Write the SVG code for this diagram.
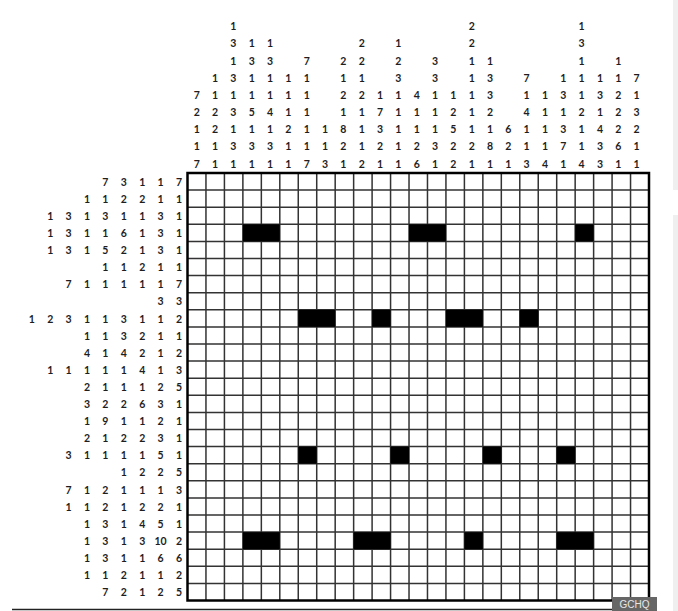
<svg xmlns="http://www.w3.org/2000/svg" width="678" height="611" viewBox="0 0 678 611">
<style>
.c{font-family:Lato,"Liberation Sans",sans-serif;font-weight:bold;font-size:10.5px;fill:#1e1e1e;text-anchor:middle}
.g{stroke:#333;stroke-width:1.5;fill:none}
.b{fill:#000}
</style>
<rect width="678" height="611" fill="#fff"/>
<rect x="673" y="0" width="5" height="190" fill="#efefef"/>
<rect x="673" y="215" width="5" height="396" fill="#efefef"/>
<g id="column-clues" class="c">
<text><tspan x="196.7" y="98.8">7</tspan><tspan x="196.7" y="116">2</tspan><tspan x="196.7" y="133.2">1</tspan><tspan x="196.7" y="150.3">1</tspan><tspan x="196.7" y="167.5">7</tspan></text>
<text><tspan x="215" y="81.7">1</tspan><tspan x="215" y="98.8">1</tspan><tspan x="215" y="116">2</tspan><tspan x="215" y="133.2">2</tspan><tspan x="215" y="150.3">1</tspan><tspan x="215" y="167.5">1</tspan></text>
<text><tspan x="233.4" y="30.2">1</tspan><tspan x="233.4" y="47.4">3</tspan><tspan x="233.4" y="64.5">1</tspan><tspan x="233.4" y="81.7">3</tspan><tspan x="233.4" y="98.8">1</tspan><tspan x="233.4" y="116">3</tspan><tspan x="233.4" y="133.2">1</tspan><tspan x="233.4" y="150.3">3</tspan><tspan x="233.4" y="167.5">1</tspan></text>
<text><tspan x="251.7" y="47.4">1</tspan><tspan x="251.7" y="64.5">3</tspan><tspan x="251.7" y="81.7">1</tspan><tspan x="251.7" y="98.8">1</tspan><tspan x="251.7" y="116">5</tspan><tspan x="251.7" y="133.2">1</tspan><tspan x="251.7" y="150.3">3</tspan><tspan x="251.7" y="167.5">1</tspan></text>
<text><tspan x="270" y="47.4">1</tspan><tspan x="270" y="64.5">3</tspan><tspan x="270" y="81.7">1</tspan><tspan x="270" y="98.8">1</tspan><tspan x="270" y="116">4</tspan><tspan x="270" y="133.2">1</tspan><tspan x="270" y="150.3">3</tspan><tspan x="270" y="167.5">1</tspan></text>
<text><tspan x="288.4" y="81.7">1</tspan><tspan x="288.4" y="98.8">1</tspan><tspan x="288.4" y="116">1</tspan><tspan x="288.4" y="133.2">2</tspan><tspan x="288.4" y="150.3">1</tspan><tspan x="288.4" y="167.5">1</tspan></text>
<text><tspan x="306.7" y="64.5">7</tspan><tspan x="306.7" y="81.7">1</tspan><tspan x="306.7" y="98.8">1</tspan><tspan x="306.7" y="116">1</tspan><tspan x="306.7" y="133.2">1</tspan><tspan x="306.7" y="150.3">1</tspan><tspan x="306.7" y="167.5">7</tspan></text>
<text><tspan x="325" y="133.2">1</tspan><tspan x="325" y="150.3">1</tspan><tspan x="325" y="167.5">3</tspan></text>
<text><tspan x="343.3" y="64.5">2</tspan><tspan x="343.3" y="81.7">1</tspan><tspan x="343.3" y="98.8">2</tspan><tspan x="343.3" y="116">1</tspan><tspan x="343.3" y="133.2">8</tspan><tspan x="343.3" y="150.3">2</tspan><tspan x="343.3" y="167.5">1</tspan></text>
<text><tspan x="361.7" y="47.4">2</tspan><tspan x="361.7" y="64.5">2</tspan><tspan x="361.7" y="81.7">1</tspan><tspan x="361.7" y="98.8">2</tspan><tspan x="361.7" y="116">1</tspan><tspan x="361.7" y="133.2">1</tspan><tspan x="361.7" y="150.3">1</tspan><tspan x="361.7" y="167.5">2</tspan></text>
<text><tspan x="380" y="98.8">1</tspan><tspan x="380" y="116">7</tspan><tspan x="380" y="133.2">3</tspan><tspan x="380" y="150.3">2</tspan><tspan x="380" y="167.5">1</tspan></text>
<text><tspan x="398.3" y="47.4">1</tspan><tspan x="398.3" y="64.5">2</tspan><tspan x="398.3" y="81.7">3</tspan><tspan x="398.3" y="98.8">1</tspan><tspan x="398.3" y="116">1</tspan><tspan x="398.3" y="133.2">1</tspan><tspan x="398.3" y="150.3">1</tspan><tspan x="398.3" y="167.5">1</tspan></text>
<text><tspan x="416.7" y="98.8">4</tspan><tspan x="416.7" y="116">1</tspan><tspan x="416.7" y="133.2">1</tspan><tspan x="416.7" y="150.3">2</tspan><tspan x="416.7" y="167.5">6</tspan></text>
<text><tspan x="435" y="64.5">3</tspan><tspan x="435" y="81.7">3</tspan><tspan x="435" y="98.8">1</tspan><tspan x="435" y="116">1</tspan><tspan x="435" y="133.2">1</tspan><tspan x="435" y="150.3">3</tspan><tspan x="435" y="167.5">1</tspan></text>
<text><tspan x="453.3" y="98.8">1</tspan><tspan x="453.3" y="116">2</tspan><tspan x="453.3" y="133.2">5</tspan><tspan x="453.3" y="150.3">2</tspan><tspan x="453.3" y="167.5">2</tspan></text>
<text><tspan x="471.7" y="30.2">2</tspan><tspan x="471.7" y="47.4">2</tspan><tspan x="471.7" y="64.5">1</tspan><tspan x="471.7" y="81.7">1</tspan><tspan x="471.7" y="98.8">1</tspan><tspan x="471.7" y="116">1</tspan><tspan x="471.7" y="133.2">1</tspan><tspan x="471.7" y="150.3">2</tspan><tspan x="471.7" y="167.5">1</tspan></text>
<text><tspan x="490" y="64.5">1</tspan><tspan x="490" y="81.7">3</tspan><tspan x="490" y="98.8">3</tspan><tspan x="490" y="116">2</tspan><tspan x="490" y="133.2">1</tspan><tspan x="490" y="150.3">8</tspan><tspan x="490" y="167.5">1</tspan></text>
<text><tspan x="508.3" y="133.2">6</tspan><tspan x="508.3" y="150.3">2</tspan><tspan x="508.3" y="167.5">1</tspan></text>
<text><tspan x="526.6" y="81.7">7</tspan><tspan x="526.6" y="98.8">1</tspan><tspan x="526.6" y="116">4</tspan><tspan x="526.6" y="133.2">1</tspan><tspan x="526.6" y="150.3">1</tspan><tspan x="526.6" y="167.5">3</tspan></text>
<text><tspan x="545" y="98.8">1</tspan><tspan x="545" y="116">1</tspan><tspan x="545" y="133.2">1</tspan><tspan x="545" y="150.3">1</tspan><tspan x="545" y="167.5">4</tspan></text>
<text><tspan x="563.3" y="81.7">1</tspan><tspan x="563.3" y="98.8">3</tspan><tspan x="563.3" y="116">1</tspan><tspan x="563.3" y="133.2">3</tspan><tspan x="563.3" y="150.3">7</tspan><tspan x="563.3" y="167.5">1</tspan></text>
<text><tspan x="581.6" y="30.2">1</tspan><tspan x="581.6" y="47.4">3</tspan><tspan x="581.6" y="64.5">1</tspan><tspan x="581.6" y="81.7">1</tspan><tspan x="581.6" y="98.8">1</tspan><tspan x="581.6" y="116">2</tspan><tspan x="581.6" y="133.2">1</tspan><tspan x="581.6" y="150.3">1</tspan><tspan x="581.6" y="167.5">4</tspan></text>
<text><tspan x="600" y="81.7">1</tspan><tspan x="600" y="98.8">3</tspan><tspan x="600" y="116">1</tspan><tspan x="600" y="133.2">4</tspan><tspan x="600" y="150.3">3</tspan><tspan x="600" y="167.5">3</tspan></text>
<text><tspan x="618.3" y="64.5">1</tspan><tspan x="618.3" y="81.7">1</tspan><tspan x="618.3" y="98.8">2</tspan><tspan x="618.3" y="116">2</tspan><tspan x="618.3" y="133.2">2</tspan><tspan x="618.3" y="150.3">6</tspan><tspan x="618.3" y="167.5">1</tspan></text>
<text><tspan x="636.6" y="81.7">7</tspan><tspan x="636.6" y="98.8">1</tspan><tspan x="636.6" y="116">3</tspan><tspan x="636.6" y="133.2">2</tspan><tspan x="636.6" y="150.3">1</tspan><tspan x="636.6" y="167.5">1</tspan></text>
</g>
<g id="row-clues" class="c">
<text y="185.7"><tspan x="105.4">7</tspan><tspan x="123.8">3</tspan><tspan x="142.2">1</tspan><tspan x="160.6">1</tspan><tspan x="179">7</tspan></text>
<text y="202.8"><tspan x="87">1</tspan><tspan x="105.4">1</tspan><tspan x="123.8">2</tspan><tspan x="142.2">2</tspan><tspan x="160.6">1</tspan><tspan x="179">1</tspan></text>
<text y="219.9"><tspan x="50.2">1</tspan><tspan x="68.6">3</tspan><tspan x="87">1</tspan><tspan x="105.4">3</tspan><tspan x="123.8">1</tspan><tspan x="142.2">1</tspan><tspan x="160.6">3</tspan><tspan x="179">1</tspan></text>
<text y="237"><tspan x="50.2">1</tspan><tspan x="68.6">3</tspan><tspan x="87">1</tspan><tspan x="105.4">1</tspan><tspan x="123.8">6</tspan><tspan x="142.2">1</tspan><tspan x="160.6">3</tspan><tspan x="179">1</tspan></text>
<text y="254.1"><tspan x="50.2">1</tspan><tspan x="68.6">3</tspan><tspan x="87">1</tspan><tspan x="105.4">5</tspan><tspan x="123.8">2</tspan><tspan x="142.2">1</tspan><tspan x="160.6">3</tspan><tspan x="179">1</tspan></text>
<text y="271.2"><tspan x="105.4">1</tspan><tspan x="123.8">1</tspan><tspan x="142.2">2</tspan><tspan x="160.6">1</tspan><tspan x="179">1</tspan></text>
<text y="288.3"><tspan x="68.6">7</tspan><tspan x="87">1</tspan><tspan x="105.4">1</tspan><tspan x="123.8">1</tspan><tspan x="142.2">1</tspan><tspan x="160.6">1</tspan><tspan x="179">7</tspan></text>
<text y="305.4"><tspan x="160.6">3</tspan><tspan x="179">3</tspan></text>
<text y="322.5"><tspan x="31.8">1</tspan><tspan x="50.2">2</tspan><tspan x="68.6">3</tspan><tspan x="87">1</tspan><tspan x="105.4">1</tspan><tspan x="123.8">3</tspan><tspan x="142.2">1</tspan><tspan x="160.6">1</tspan><tspan x="179">2</tspan></text>
<text y="339.6"><tspan x="87">1</tspan><tspan x="105.4">1</tspan><tspan x="123.8">3</tspan><tspan x="142.2">2</tspan><tspan x="160.6">1</tspan><tspan x="179">1</tspan></text>
<text y="356.7"><tspan x="87">4</tspan><tspan x="105.4">1</tspan><tspan x="123.8">4</tspan><tspan x="142.2">2</tspan><tspan x="160.6">1</tspan><tspan x="179">2</tspan></text>
<text y="373.8"><tspan x="50.2">1</tspan><tspan x="68.6">1</tspan><tspan x="87">1</tspan><tspan x="105.4">1</tspan><tspan x="123.8">1</tspan><tspan x="142.2">4</tspan><tspan x="160.6">1</tspan><tspan x="179">3</tspan></text>
<text y="390.9"><tspan x="87">2</tspan><tspan x="105.4">1</tspan><tspan x="123.8">1</tspan><tspan x="142.2">1</tspan><tspan x="160.6">2</tspan><tspan x="179">5</tspan></text>
<text y="408"><tspan x="87">3</tspan><tspan x="105.4">2</tspan><tspan x="123.8">2</tspan><tspan x="142.2">6</tspan><tspan x="160.6">3</tspan><tspan x="179">1</tspan></text>
<text y="425.1"><tspan x="87">1</tspan><tspan x="105.4">9</tspan><tspan x="123.8">1</tspan><tspan x="142.2">1</tspan><tspan x="160.6">2</tspan><tspan x="179">1</tspan></text>
<text y="442.2"><tspan x="87">2</tspan><tspan x="105.4">1</tspan><tspan x="123.8">2</tspan><tspan x="142.2">2</tspan><tspan x="160.6">3</tspan><tspan x="179">1</tspan></text>
<text y="459.3"><tspan x="68.6">3</tspan><tspan x="87">1</tspan><tspan x="105.4">1</tspan><tspan x="123.8">1</tspan><tspan x="142.2">1</tspan><tspan x="160.6">5</tspan><tspan x="179">1</tspan></text>
<text y="476.4"><tspan x="123.8">1</tspan><tspan x="142.2">2</tspan><tspan x="160.6">2</tspan><tspan x="179">5</tspan></text>
<text y="493.5"><tspan x="68.6">7</tspan><tspan x="87">1</tspan><tspan x="105.4">2</tspan><tspan x="123.8">1</tspan><tspan x="142.2">1</tspan><tspan x="160.6">1</tspan><tspan x="179">3</tspan></text>
<text y="510.6"><tspan x="68.6">1</tspan><tspan x="87">1</tspan><tspan x="105.4">2</tspan><tspan x="123.8">1</tspan><tspan x="142.2">2</tspan><tspan x="160.6">2</tspan><tspan x="179">1</tspan></text>
<text y="527.7"><tspan x="87">1</tspan><tspan x="105.4">3</tspan><tspan x="123.8">1</tspan><tspan x="142.2">4</tspan><tspan x="160.6">5</tspan><tspan x="179">1</tspan></text>
<text y="544.8"><tspan x="87">1</tspan><tspan x="105.4">3</tspan><tspan x="123.8">1</tspan><tspan x="142.2">3</tspan><tspan x="160.6">10</tspan><tspan x="179">2</tspan></text>
<text y="561.9"><tspan x="87">1</tspan><tspan x="105.4">3</tspan><tspan x="123.8">1</tspan><tspan x="142.2">1</tspan><tspan x="160.6">6</tspan><tspan x="179">6</tspan></text>
<text y="579"><tspan x="87">1</tspan><tspan x="105.4">1</tspan><tspan x="123.8">2</tspan><tspan x="142.2">1</tspan><tspan x="160.6">1</tspan><tspan x="179">2</tspan></text>
<text y="596.1"><tspan x="105.4">7</tspan><tspan x="123.8">2</tspan><tspan x="142.2">1</tspan><tspan x="160.6">2</tspan><tspan x="179">5</tspan></text>
</g>
<g id="grid">
<rect x="187.5" y="173" width="461.5" height="427.5" fill="#fff"/>
<path class="g" d="M205.96 173V600.5M224.42 173V600.5M242.88 173V600.5M261.34 173V600.5M279.8 173V600.5M298.26 173V600.5M316.72 173V600.5M335.18 173V600.5M353.64 173V600.5M372.1 173V600.5M390.56 173V600.5M409.02 173V600.5M427.48 173V600.5M445.94 173V600.5M464.4 173V600.5M482.86 173V600.5M501.32 173V600.5M519.78 173V600.5M538.24 173V600.5M556.7 173V600.5M575.16 173V600.5M593.62 173V600.5M612.08 173V600.5M630.54 173V600.5"/>
<path class="g" d="M187.5 190.1H649M187.5 207.2H649M187.5 224.3H649M187.5 241.4H649M187.5 258.5H649M187.5 275.6H649M187.5 292.7H649M187.5 309.8H649M187.5 326.9H649M187.5 344H649M187.5 361.1H649M187.5 378.2H649M187.5 395.3H649M187.5 412.4H649M187.5 429.5H649M187.5 446.6H649M187.5 463.7H649M187.5 480.8H649M187.5 497.9H649M187.5 515H649M187.5 532.1H649M187.5 549.2H649M187.5 566.3H649M187.5 583.4H649"/>
</g>
<g id="given-cells">
<rect class="b" x="242.88" y="224.3" width="36.92" height="17.1"/>
<rect class="b" x="409.02" y="224.3" width="36.92" height="17.1"/>
<rect class="b" x="575.16" y="224.3" width="18.46" height="17.1"/>
<rect class="b" x="298.26" y="309.8" width="36.92" height="17.1"/>
<rect class="b" x="372.1" y="309.8" width="18.46" height="17.1"/>
<rect class="b" x="445.94" y="309.8" width="36.92" height="17.1"/>
<rect class="b" x="519.78" y="309.8" width="18.46" height="17.1"/>
<rect class="b" x="298.26" y="446.6" width="18.46" height="17.1"/>
<rect class="b" x="390.56" y="446.6" width="18.46" height="17.1"/>
<rect class="b" x="482.86" y="446.6" width="18.46" height="17.1"/>
<rect class="b" x="556.7" y="446.6" width="18.46" height="17.1"/>
<rect class="b" x="242.88" y="532.1" width="36.92" height="17.1"/>
<rect class="b" x="353.64" y="532.1" width="36.92" height="17.1"/>
<rect class="b" x="464.4" y="532.1" width="18.46" height="17.1"/>
<rect class="b" x="556.7" y="532.1" width="36.92" height="17.1"/>
</g>
<rect x="187.5" y="173" width="461.5" height="427.5" fill="none" stroke="#000" stroke-width="2.5"/>
<line x1="12" y1="609.5" x2="612" y2="609.5" stroke="#222" stroke-width="1.5"/>
<g id="watermark">
<rect x="612" y="597" width="45" height="14" fill="#666"/>
<text x="634.5" y="608" font-family="Liberation Sans,Arial,sans-serif" font-size="10" fill="#e6e6e6" text-anchor="middle">GCHQ</text>
</g>
</svg>
